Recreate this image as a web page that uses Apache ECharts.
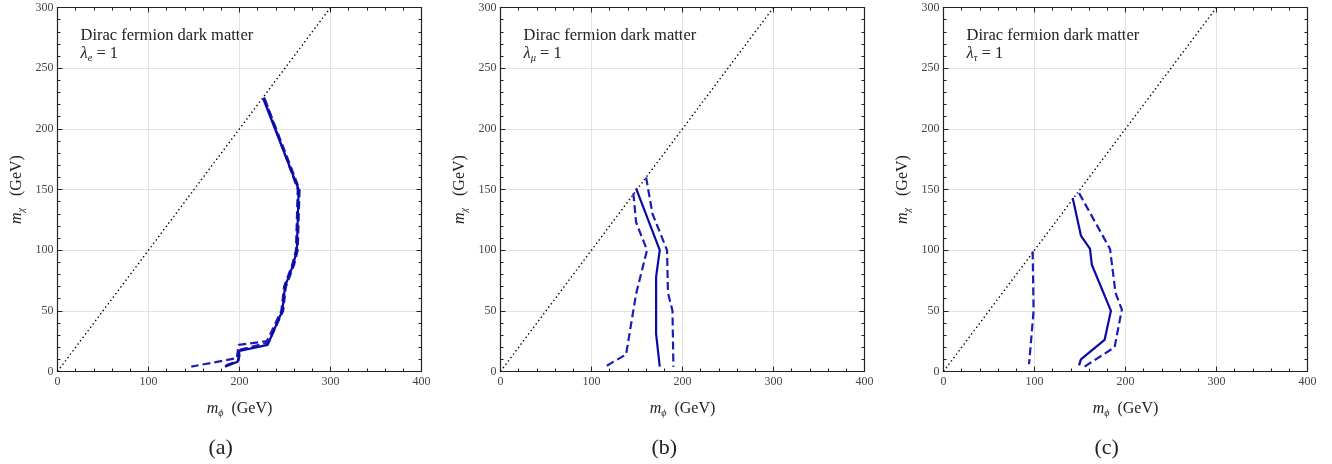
<!DOCTYPE html>
<html>
<head>
<meta charset="utf-8">
<script src="https://cdn.jsdelivr.net/npm/echarts@6/dist/echarts.min.js"></script>
<style>
html,body{margin:0;padding:0;background:#fff;}
#chart{width:1332px;height:464px;}
</style>
</head>
<body>
<div id="chart"></div>
<script>
// ---- data ----
const xTicks = [0, 100, 200, 300, 400];
const yTicks = [0, 50, 100, 150, 200, 250, 300];
const panelLabels = ['(a)', '(b)', '(c)'];
const couplingSubs = ['e', 'μ', 'τ'];
const diagonal = [[0, 0], [300, 300]];

// panel (a): lambda_e = 1
const aSolid = [[226,225],[265,150],[263,100],[259,88],[250,70],[247,50],[231,22],[200,17],[198,8],[184,4]];
const aDashed1 = [[227,226],[264,150],[262,100],[258,88],[249,70],[246,50],[230,25],[199,22],[197,11],[147,4]];
const aDashed2 = [[228,224],[266,150],[264,100],[260,88],[251,70],[248,50],[232,24],[201,18],[199,9],[185,5]];

// panel (b): lambda_mu = 1
const bSolid = [[149,151],[175,100],[171,78],[171,31],[175,4]];
const bDashed1 = [[146,147],[149,123],[161,100],[149,64],[138,14],[115,4]];
const bDashed2 = [[160,160],[167,130],[183,100],[184,65],[189,50],[190,4]];

// panel (c): lambda_tau = 1
const cSolid = [[142,143],[151,112],[161,101],[163,88],[184,50],[177,26],[151,10],[149,5]];
const cDashed1 = [[98,99],[99,50],[94,6]];
const cDashed2 = [[149,147],[183,101],[189,65],[196,51],[188,20],[155,4]];

const panels = [
  {solid: aSolid, dashed: [aDashed1, aDashed2]},
  {solid: bSolid, dashed: [bDashed1, bDashed2]},
  {solid: cSolid, dashed: [cDashed1, cDashed2]}
];

// ---- layout ----
const gridLefts = [57.5, 500.5, 943.5];
const gridTop = 7.5, gridSize = 364;
const serif = 'Liberation Serif';
const solidColor = '#0a0aa6';
const dashColor = '#1c1cb6';

const chart = echarts.init(document.getElementById('chart'), null, {renderer: 'canvas'});

const grids = [], xAxes = [], yAxes = [], series = [], graphics = [];

const nameRich = {
  m: {fontFamily: serif, fontStyle: 'italic', fontSize: 16, color: '#222', lineHeight: 20, verticalAlign: 'middle'},
  s: {fontFamily: serif, fontStyle: 'italic', fontSize: 10, color: '#222', lineHeight: 20, verticalAlign: 'bottom'},
  t: {fontFamily: serif, fontSize: 16, color: '#222', lineHeight: 20, verticalAlign: 'middle'}
};

panels.forEach((p, i) => {
  grids.push({left: gridLefts[i], top: gridTop, width: gridSize, height: gridSize, show: false});
  const xMin = xTicks[0], xMax = xTicks[xTicks.length - 1], xInt = xTicks[1] - xTicks[0];
  const yMin = yTicks[0], yMax = yTicks[yTicks.length - 1], yInt = yTicks[1] - yTicks[0];
  xAxes.push({
    type: 'value', gridIndex: i, min: xMin, max: xMax, interval: xInt, position: 'bottom',
    name: '{m|m}{s|ϕ}{t|  (GeV)}', nameLocation: 'middle', nameGap: 27,
    nameTextStyle: {rich: nameRich},
    axisLine: {show: true, onZero: false, lineStyle: {color: '#222', width: 1.2}},
    axisTick: {show: true, inside: true, length: 5, lineStyle: {color: '#222'}},
    minorTick: {show: true, splitNumber: 5, length: 3, lineStyle: {color: '#222'}},
    axisLabel: {fontFamily: serif, fontSize: 12, color: '#444', margin: 4},
    splitLine: {show: true, lineStyle: {color: '#e3e3e3', width: 1}}
  });
  xAxes.push({
    type: 'value', gridIndex: i, min: xMin, max: xMax, interval: xInt, position: 'top',
    axisLine: {show: true, onZero: false, lineStyle: {color: '#222', width: 1.2}},
    axisTick: {show: true, inside: true, length: 5, lineStyle: {color: '#222'}},
    minorTick: {show: true, splitNumber: 5, length: 3, lineStyle: {color: '#222'}},
    axisLabel: {show: false}, splitLine: {show: false}
  });
  yAxes.push({
    type: 'value', gridIndex: i, min: yMin, max: yMax, interval: yInt, position: 'left',
    name: '{m|m}{s|χ}{t|   (GeV)}', nameLocation: 'middle', nameGap: 31,
    nameTextStyle: {rich: nameRich},
    axisLine: {show: true, onZero: false, lineStyle: {color: '#222', width: 1.2}},
    axisTick: {show: true, inside: true, length: 5, lineStyle: {color: '#222'}},
    minorTick: {show: true, splitNumber: 5, length: 3, lineStyle: {color: '#222'}},
    axisLabel: {fontFamily: serif, fontSize: 12, color: '#444', margin: 4},
    splitLine: {show: true, lineStyle: {color: '#e3e3e3', width: 1}}
  });
  yAxes.push({
    type: 'value', gridIndex: i, min: yMin, max: yMax, interval: yInt, position: 'right',
    axisLine: {show: true, onZero: false, lineStyle: {color: '#222', width: 1.2}},
    axisTick: {show: true, inside: true, length: 5, lineStyle: {color: '#222'}},
    minorTick: {show: true, splitNumber: 5, length: 3, lineStyle: {color: '#222'}},
    axisLabel: {show: false}, splitLine: {show: false}
  });

  const xi = i * 2, yi = i * 2;
  series.push({
    type: 'line', xAxisIndex: xi, yAxisIndex: yi, data: diagonal, showSymbol: false, silent: true,
    lineStyle: {color: '#000', width: 1.4, type: [1.4, 2.8]}, z: 2
  });
  p.dashed.forEach(d => series.push({
    type: 'line', xAxisIndex: xi, yAxisIndex: yi, data: d, showSymbol: false, silent: true,
    lineStyle: {color: dashColor, width: 2.2, type: [8, 4]}, z: 3
  }));
  series.push({
    type: 'line', xAxisIndex: xi, yAxisIndex: yi, data: p.solid, showSymbol: false, silent: true,
    lineStyle: {color: solidColor, width: 2.2}, z: 4
  });

  graphics.push({
    type: 'text', left: gridLefts[i] + 23, top: 27,
    style: {text: 'Dirac fermion dark matter', font: '16.5px "Liberation Serif"', fill: '#222'}
  });
  graphics.push({
    type: 'text', left: gridLefts[i] + 23, top: 45,
    style: {
      text: '{l|λ}{s|' + couplingSubs[i] + '}{t| = 1}',
      rich: {
        l: {fontFamily: serif, fontStyle: 'italic', fontSize: 16.5, fill: '#222', lineHeight: 21, verticalAlign: 'middle'},
        s: {fontFamily: serif, fontStyle: 'italic', fontSize: 10.5, fill: '#222', lineHeight: 21, verticalAlign: 'bottom'},
        t: {fontFamily: serif, fontSize: 16.5, fill: '#222', lineHeight: 21, verticalAlign: 'middle'}
      }
    }
  });
  graphics.push({
    type: 'text', left: gridLefts[i] + gridSize / 2 - 31, top: 437,
    style: {text: panelLabels[i], font: '22px "Liberation Serif"', fill: '#222'}
  });
});

chart.setOption({
  animation: false,
  backgroundColor: '#fff',
  grid: grids,
  xAxis: xAxes,
  yAxis: yAxes,
  series: series,
  graphic: graphics
});
</script>
</body>
</html>
